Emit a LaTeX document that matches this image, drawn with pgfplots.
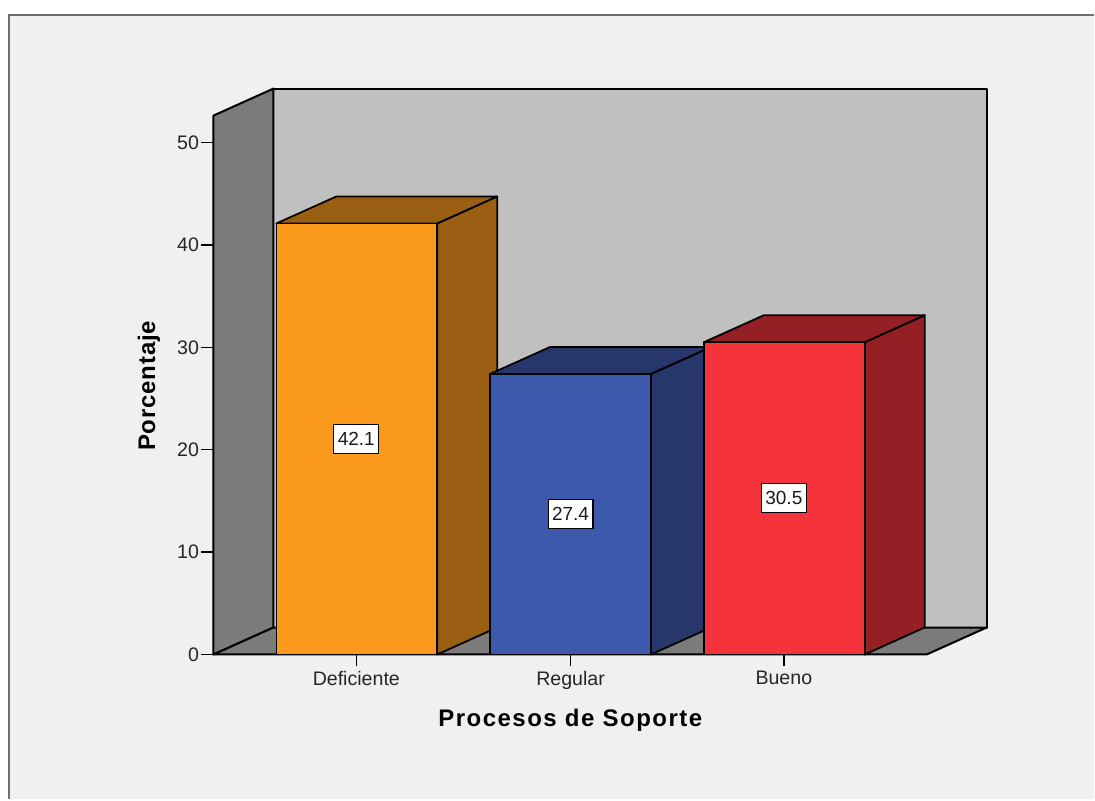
\documentclass[border=0pt]{standalone}
\usepackage{pgfplots}
\usepackage{fontspec}
\pgfplotsset{compat=1.18}
\setmainfont{Liberation Sans}
\newfontfamily\axistitle[LetterSpace=6.3]{Liberation Sans}
\newfontfamily\valuetitle[LetterSpace=3.4]{Liberation Sans}

\definecolor{pagebg}{HTML}{F0F0F0}
\definecolor{framegray}{HTML}{6E6E6E}
\definecolor{wallback}{HTML}{C0C0C0}
\definecolor{wallside}{HTML}{7B7B7B}
\definecolor{orangeF}{HTML}{FC9A1E}
\definecolor{orangeS}{HTML}{9A5F12}
\definecolor{blueF}{HTML}{3D59AB}
\definecolor{blueS}{HTML}{27366B}
\definecolor{redF}{HTML}{F5333B}
\definecolor{redS}{HTML}{941F24}

\begin{document}
\begin{tikzpicture}[x=1pt,y=1pt]
% page, chart area and its frame
\fill[white] (0,0) rectangle (1095,800);
\fill[pagebg] (9,0) rectangle (1095,785);
\draw[framegray,line width=2.4pt] (9,0) -- (9,785) -- (1095,785);

\begin{axis}[
  at={(213.7pt,144.8pt)}, anchor=south west,
  scale only axis, width=774pt, height=566.5pt,
  xmin=213, xmax=987, ymin=0, ymax=55.27,
  clip=false,
  axis x line*=bottom, axis y line*=left,
  axis line style={draw=none},
  tick align=outside,
  major tick length=12pt,
  tick style={black,line width=1.5pt},
  xtick={356,570.5,784},
  xticklabels={Deficiente,Regular,Bueno},
  ytick={0,10,20,30,40,50},
  /pgf/number format/assume math mode=true,
  tick label style={font=\fontsize{19.6}{21}\selectfont,text=black!85},
  xticklabel style={yshift=-1.5pt},
  yticklabel style={xshift=1pt},
  xlabel={Procesos de Soporte},
  ylabel={Porcentaje},
  xlabel style={at={(0.4615,-0.1155)},anchor=center,font=\axistitle\fontsize{24}{26}\selectfont\bfseries},
  ylabel style={at={(-0.0835,0.4745)},anchor=center,font=\valuetitle\fontsize{24}{26}\selectfont\bfseries},
  every axis plot/.append style={line join=round},
]
% walls and floor
\addplot[draw=black,line width=2pt,fill=wallback] coordinates {(273,2.634) (273,55.27) (987,55.27) (987,2.634)} -- cycle;
\addplot[draw=black,line width=2pt,fill=wallside] coordinates {(213,0) (213,52.634) (273,55.27) (273,2.634)} -- cycle;
\addplot[draw=black,line width=2pt,fill=wallside] coordinates {(213,0) (927,0) (987,2.634) (273,2.634)} -- cycle;

% Deficiente
\addplot[draw=black,line width=1.8pt,fill=orangeS] coordinates {(437,0) (437,42.1) (497,44.734) (497,2.634)} -- cycle;
\addplot[draw=black,line width=1.8pt,fill=orangeS] coordinates {(276,42.1) (437,42.1) (497,44.734) (336,44.734)} -- cycle;
\addplot[draw=black,line width=1.8pt,fill=orangeF] coordinates {(276,0) (276,42.1) (437,42.1) (437,0)} -- cycle;

% Regular
\addplot[draw=black,line width=1.8pt,fill=blueS] coordinates {(651,0) (651,27.4) (711,30.034) (711,2.634)} -- cycle;
\addplot[draw=black,line width=1.8pt,fill=blueS] coordinates {(490,27.4) (651,27.4) (711,30.034) (550,30.034)} -- cycle;
\addplot[draw=black,line width=1.8pt,fill=blueF] coordinates {(490,0) (490,27.4) (651,27.4) (651,0)} -- cycle;

% Bueno
\addplot[draw=black,line width=1.8pt,fill=redS] coordinates {(865,0) (865,30.5) (925,33.134) (925,2.634)} -- cycle;
\addplot[draw=black,line width=1.8pt,fill=redS] coordinates {(704,30.5) (865,30.5) (925,33.134) (764,33.134)} -- cycle;
\addplot[draw=black,line width=1.8pt,fill=redF] coordinates {(704,0) (704,30.5) (865,30.5) (865,0)} -- cycle;

% value labels at mid-height of each bar
\foreach \px/\py/\val in {356/21.05/42.1,570.5/13.7/27.4,784/15.25/30.5}{
  \edef\temp{\noexpand\node[fill=white,draw=black,line width=1.2pt,minimum width=45pt,minimum height=29pt,inner sep=0pt,font=\noexpand\fontsize{19}{21}\noexpand\selectfont,text=black!90] at (axis cs:\px,\py) {\val};}
  \temp
}
\end{axis}
\end{tikzpicture}
\end{document}
